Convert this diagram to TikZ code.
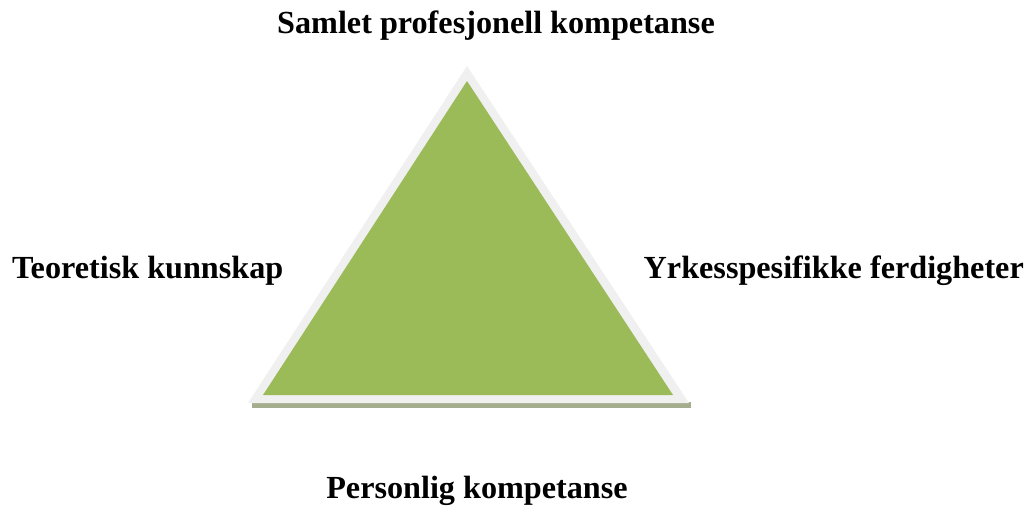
\documentclass[tikz,border=0pt]{standalone}
\usepackage{fontspec}
\setmainfont{Liberation Serif}
\definecolor{tgreen}{HTML}{9BBB59}
\definecolor{tborder}{HTML}{F0F0F0}
\definecolor{tshadow}{HTML}{A4AE8E}
\begin{document}
\begin{tikzpicture}[x=1pt,y=-1pt,
  lbl/.style={font=\fontsize{32.2}{37}\selectfont\bfseries, inner sep=0pt}]
\useasboundingbox (0,0) rectangle (1027,507);
% shadow strip
\fill[tshadow] (252,402) -- (691,402) -- (691,408) -- (252,408) -- cycle;
% outer border triangle
\fill[tborder] (467,66) coordinate (apexO) -- (689,403) coordinate (rightO) -- (248,403) coordinate (leftO) -- cycle;
% inner green triangle
\fill[tgreen] (467,81) coordinate (apexI) -- (673,395) coordinate (rightI) -- (263,395) coordinate (leftI) -- cycle;
\node[lbl, anchor=base] (top) at (496,33) {Samlet profesjonell kompetanse};
\node[lbl, anchor=base west] (left) at (12,278) {Teoretisk kunnskap};
\node[lbl, anchor=base east] (right) at (1024,278) {Yrkesspesifikke ferdigheter};
\node[lbl, anchor=base] (bottom) at (477,498) {Personlig kompetanse};
\end{tikzpicture}
\end{document}
